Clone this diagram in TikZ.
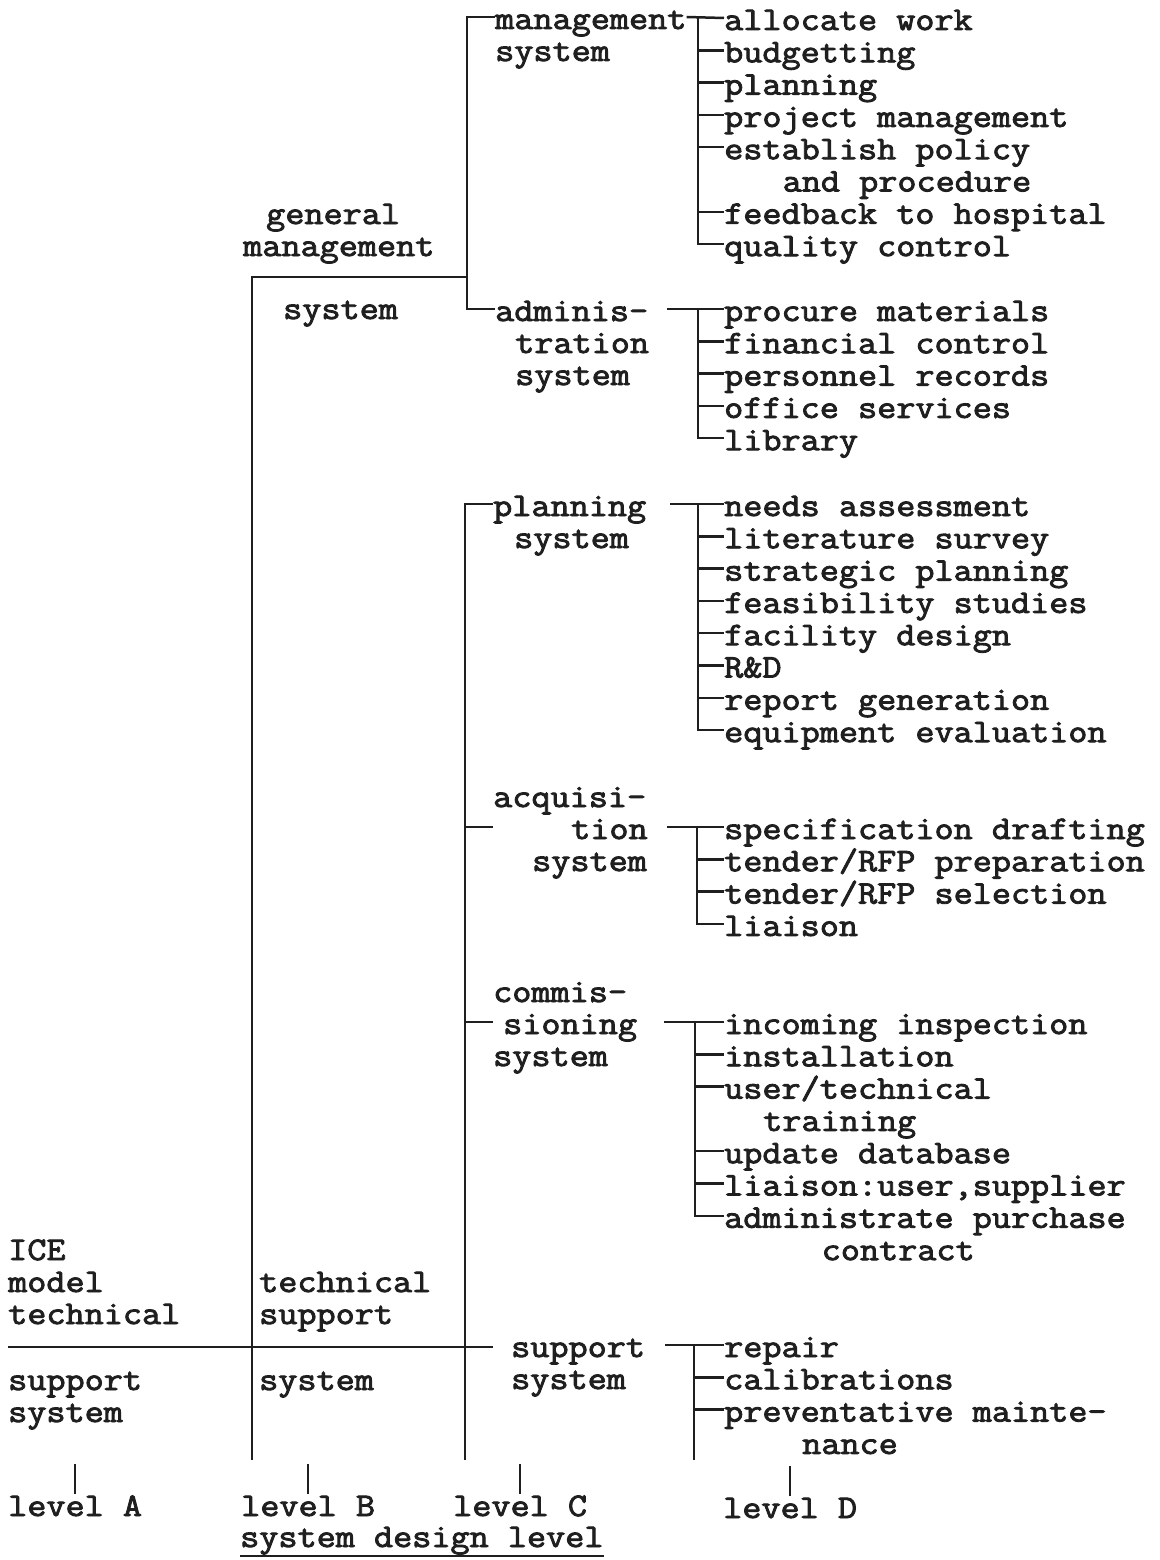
\documentclass[tikz,border=0pt]{standalone}
\usepackage{fontspec}
\newfontfamily\typewriter{Latin Modern Mono}[FakeStretch=1.125, BoldFont=Latin Modern Mono, BoldFeatures={FakeBold=2.6}]
\begin{document}
\begin{tikzpicture}[x=1pt,y=-1pt,
  txt/.style={anchor=base west, inner sep=0pt, text height=24pt, text depth=0pt,
              font=\typewriter\fontsize{33}{32}\selectfont\bfseries, text=black!88},
  ln/.style={line width=2.5pt, draw=black!88},
  lvtick/.style={line width=2.2pt, draw=black!88}]
\useasboundingbox (0,0) rectangle (1159,1560);
\fill[white] (0,0) rectangle (1159,1560);

% x positions of the vertical rules
\coordinate (xB)  at (252,0);
\coordinate (xC1) at (467,0);
\coordinate (xC2) at (465,0);
\coordinate (xDm) at (698,0);
\coordinate (xDa) at (698,0);
\coordinate (xDp) at (698,0);
\coordinate (xDq) at (697,0);
\coordinate (xDc) at (695,0);
\coordinate (xDs) at (694,0);
\coordinate (jB)   at (467,277);
\coordinate (bot)  at (0,1460);
\coordinate (hL)   at (8,1347);
\coordinate (hR)   at (493,1347);

% ---------- level A ----------
\node[txt] (A1) at (8,1260) {ICE};
\node[txt] (A2) at (8,1292) {model};
\node[txt] (A3) at (8,1324) {technical};
\node[txt] (A4) at (8,1390) {support};
\node[txt] (A5) at (8,1422) {system};

% ---------- level B ----------
\node[txt] (gen1) at (266,224) {general};
\node[txt] (gen2) at (243,256) {management};
\node[txt] (gen3) at (283,319) {system};
\node[txt] (tec1) at (259,1292) {technical};
\node[txt] (tec2) at (259,1324) {support};
\node[txt] (tec3) at (259,1390) {system};

% ---------- level C ----------
\node[txt] (mg1) at (495,29)  {management};
\node[txt] (mg2) at (495,61)  {system};
\node[txt] (ad1) at (495,321) {adminis-};
\node[txt] (ad2) at (515,353) {tration};
\node[txt] (ad3) at (515,385) {system};
\node[txt] (pl1) at (493,516) {planning};
\node[txt] (pl2) at (514,548) {system};
\node[txt] (aq1) at (493,807) {acquisi-};
\node[txt] (aq2) at (571,839) {tion};
\node[txt] (aq3) at (532,871) {system};
\node[txt] (cm1) at (493,1002) {commis-};
\node[txt] (cm2) at (503,1034) {sioning};
\node[txt] (cm3) at (493,1066) {system};
\node[txt] (sp1) at (511,1357) {support};
\node[txt] (sp2) at (511,1389) {system};

% ---------- level D ----------
\node[txt] (m1) at (724,30)    {allocate work};
\node[txt] (m2) at (724,62.3)  {budgetting};
\node[txt] (m3) at (724,94.6)  {planning};
\node[txt] (m4) at (724,126.9) {project management};
\node[txt] (m5) at (724,159.2) {establish policy};
\node[txt] (m5b) at (782.5,191.5) {and procedure};
\node[txt] (m6) at (724,223.8) {feedback to hospital};
\node[txt] (m7) at (724,256.1) {quality control};

\node[txt] (a1) at (724,321)   {procure materials};
\node[txt] (a2) at (724,353.3) {financial control};
\node[txt] (a3) at (724,385.6) {personnel records};
\node[txt] (a4) at (724,417.9) {office services};
\node[txt] (a5) at (724,450.2) {library};

\node[txt] (p1) at (724,516)   {needs assessment};
\node[txt] (p2) at (724,548.3) {literature survey};
\node[txt] (p3) at (724,580.6) {strategic planning};
\node[txt] (p4) at (724,612.9) {feasibility studies};
\node[txt] (p5) at (724,645.2) {facility design};
\node[txt] (p6) at (724,677.5) {R\&D};
\node[txt] (p7) at (724,709.8) {report generation};
\node[txt] (p8) at (724,742.1) {equipment evaluation};

\node[txt] (q1) at (724,839)   {specification drafting};
\node[txt] (q2) at (724,871.3) {tender/RFP preparation};
\node[txt] (q3) at (724,903.6) {tender/RFP selection};
\node[txt] (q4) at (724,935.9) {liaison};

\node[txt] (c1) at (724,1034)   {incoming inspection};
\node[txt] (c2) at (724,1066.3) {installation};
\node[txt] (c3) at (724,1098.6) {user/technical};
\node[txt] (c3b) at (763,1130.9) {training};
\node[txt] (c4) at (724,1163.2) {update database};
\node[txt] (c5) at (724,1195.5) {liaison:user,supplier};
\node[txt] (c6) at (724,1227.8) {administrate purchase};
\node[txt] (c6b) at (821.5,1260.1) {contract};

\node[txt] (s1) at (724,1357)   {repair};
\node[txt] (s2) at (724,1389.3) {calibrations};
\node[txt] (s3) at (724,1421.6) {preventative mainte-};
\node[txt] (s3b) at (802,1453.9) {nance};

% ---------- level captions ----------
\node[txt] (lA) at (8,1516)   {level A};
\node[txt] (lB) at (241,1516) {level B};
\node[txt] (lC) at (453,1516) {level C};
\node[txt] (lD) at (723,1518) {level D};
\node[txt] (sd) at (240,1547) {system design level};
\draw[lvtick] ([yshift=-9pt]sd.base west) -- ([yshift=-9pt]sd.base east);
\foreach \n in {lA,lB,lC,lD} \draw[lvtick] ([yshift=-2pt]\n.north) -- ++(0,-30);

% ---------- level A / B rules ----------
\draw[ln] (hL) -- (hR);
\draw[ln] (jB) -| (xB |- bot);

% ---------- level C rules ----------
\draw[ln] (mg1.west) -- (mg1.west -| xC1) -- (ad1.west -| xC1) -- (ad1.west);
\draw[ln] (pl1.west) -- (pl1.west -| xC2) -- (xC2 |- bot);
\draw[ln] (aq2.west -| xC2) -- (aq2.west -| aq1.west);
\draw[ln] (cm2.west -| xC2) -- (cm2.west -| cm1.west);

% ---------- level D rules ----------
% management system
\draw[ln] (mg1.east) -- (m1.west);
\draw[ln] (m1.west -| xDm) |- (m7.west);
\foreach \n in {m2,m3,m4,m5,m6} \draw[ln] (\n.west -| xDm) -- (\n.west);
% administration system
\draw[ln] ([xshift=19pt]ad1.east) -- (a1.west);
\draw[ln] (a1.west -| xDa) |- (a5.west);
\foreach \n in {a2,a3,a4} \draw[ln] (\n.west -| xDa) -- (\n.west);
% planning system
\draw[ln] ([xshift=24pt]pl1.east) -- (p1.west);
\draw[ln] (p1.west -| xDp) |- (p8.west);
\foreach \n in {p2,p3,p4,p5,p6,p7} \draw[ln] (\n.west -| xDp) -- (\n.west);
% acquisition system
\draw[ln] ([xshift=19pt]aq2.east) -- (q1.west);
\draw[ln] (q1.west -| xDq) |- (q4.west);
\foreach \n in {q2,q3} \draw[ln] (\n.west -| xDq) -- (\n.west);
% commissioning system
\draw[ln] ([xshift=27pt]cm2.east) -- (c1.west);
\draw[ln] (c1.west -| xDc) |- (c6.west);
\foreach \n in {c2,c3,c4,c5} \draw[ln] (\n.west -| xDc) -- (\n.west);
% support system
\draw[ln] ([xshift=20pt]sp1.east) -- (s1.west);
\draw[ln] (s1.west -| xDs) -- (xDs |- bot);
\foreach \n in {s2,s3} \draw[ln] (\n.west -| xDs) -- (\n.west);
\end{tikzpicture}
\end{document}
